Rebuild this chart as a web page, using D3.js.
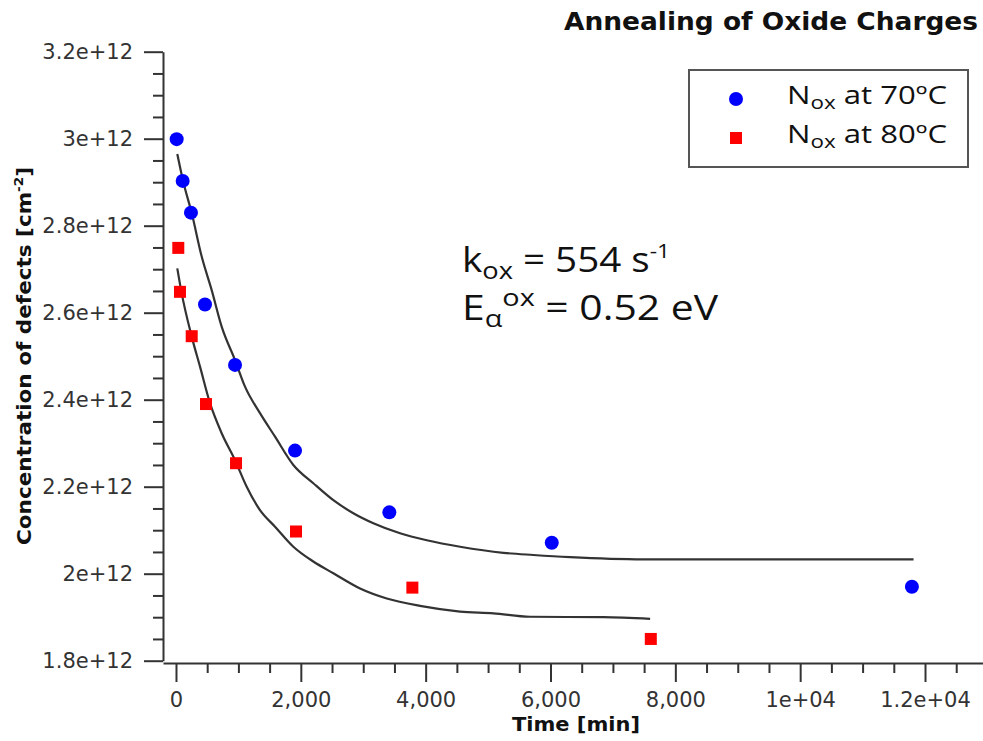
<!DOCTYPE html>
<html>
<head>
<meta charset="utf-8">
<script src="https://cdn.jsdelivr.net/npm/d3@7"></script>
<style>
  html, body { margin: 0; padding: 0; background: #fff; }
  svg { display: block; }
</style>
</head>
<body>
<svg id="chart" width="983" height="741"></svg>
<script>
// ---------- data ----------
const xTicks = [0, 2000, 4000, 6000, 8000, 10000, 12000];
const xTickLabels = ["0", "2,000", "4,000", "6,000", "8,000", "1e+04", "1.2e+04"];
const yTicks = [1.8e12, 2.0e12, 2.2e12, 2.4e12, 2.6e12, 2.8e12, 3.0e12, 3.2e12];
const yTickLabels = ["1.8e+12", "2e+12", "2.2e+12", "2.4e+12", "2.6e+12", "2.8e+12", "3e+12", "3.2e+12"];

// measured points, Nox at 70ºC
const time70 = [11, 107, 240, 465, 946, 1907, 3418, 6020, 11790];
const nox70  = [2.999e12, 2.903e12, 2.830e12, 2.619e12, 2.480e12, 2.283e12, 2.141e12, 2.071e12, 1.970e12];
// measured points, Nox at 80ºC
const time80 = [37, 64, 252, 481, 962, 1923, 3787, 7607];
const nox80  = [2.749e12, 2.648e12, 2.546e12, 2.390e12, 2.254e12, 2.097e12, 1.968e12, 1.850e12];

// fitted curves
const fitTime70 = [21, 117, 252, 412, 572, 732, 946, 1106, 1346, 1587, 1880, 2200, 2521, 2841, 3162, 3590, 4018, 4551, 5245, 5726, 6314, 7489, 11816];
const fitNox70  = [2.965e12, 2.901e12, 2.829e12, 2.729e12, 2.652e12, 2.568e12, 2.491e12, 2.430e12, 2.369e12, 2.315e12, 2.250e12, 2.208e12, 2.169e12, 2.139e12, 2.116e12, 2.093e12, 2.077e12, 2.062e12, 2.048e12, 2.043e12, 2.038e12, 2.033e12, 2.033e12];
const fitTime80 = [21, 91, 252, 385, 545, 732, 946, 1133, 1346, 1587, 1880, 2200, 2521, 2949, 3377, 3910, 4551, 5085, 5673, 6848, 7596];
const fitNox80  = [2.702e12, 2.645e12, 2.545e12, 2.476e12, 2.392e12, 2.323e12, 2.261e12, 2.200e12, 2.146e12, 2.108e12, 2.062e12, 2.028e12, 2.001e12, 1.966e12, 1.943e12, 1.926e12, 1.913e12, 1.909e12, 1.901e12, 1.900e12, 1.896e12];

const legendLabels = ["70ºC", "80ºC"];

// ---------- drawing ----------
const svg = d3.select("#chart");
const axisColor = "#333";
const tickFont = "'DejaVu Sans', sans-serif";

const x = d3.scaleLinear().domain([-208, 12929]).range([163, 983]);
const y = d3.scaleLinear().domain([1.8e12, 3.2e12]).range([660.7, 51.7]);

const xMinor = d3.range(0, 13000, 500).filter(v => v % 2000 !== 0 && x(v) <= 983);
const yMinor = d3.range(0, 29).map(i => 1.8e12 + i * 0.05e12).filter((v, i) => i % 4 !== 0);

// X axis
const gx = svg.append("g").attr("transform", "translate(0,663)");
gx.call(d3.axisBottom(x).tickValues(xMinor).tickSize(10).tickSizeOuter(0).tickFormat(""));
gx.call(g => g.select(".domain").remove());
const gx2 = svg.append("g").attr("transform", "translate(0,663)");
gx2.call(d3.axisBottom(x).tickValues(xTicks).tickSize(19).tickPadding(10).tickSizeOuter(0)
  .tickFormat((d, i) => xTickLabels[i]));
gx2.selectAll("text").attr("font-family", tickFont).attr("font-size", 21).attr("fill", "#333");

// Y axis
const gy = svg.append("g").attr("transform", "translate(163,0)");
gy.call(d3.axisLeft(y).tickValues(yMinor).tickSize(10).tickSizeOuter(0).tickFormat(""));
gy.call(g => g.select(".domain").remove());
const gy2 = svg.append("g").attr("transform", "translate(163,0)");
gy2.call(d3.axisLeft(y).tickValues(yTicks).tickSize(19).tickPadding(11).tickSizeOuter(0)
  .tickFormat((d, i) => yTickLabels[i]));
gy2.selectAll("text").attr("font-family", tickFont).attr("font-size", 21).attr("fill", "#333");

svg.selectAll("g").selectAll(".domain, line").attr("stroke", axisColor).attr("stroke-width", 2);

// Axis titles
svg.append("text")
  .attr("x", 576).attr("y", 731).attr("text-anchor", "middle")
  .attr("font-family", tickFont).attr("font-weight", "bold").attr("font-size", 19)
  .attr("textLength", 128).attr("lengthAdjust", "spacingAndGlyphs")
  .attr("fill", "#111").text("Time [min]");

const yt = svg.append("text")
  .attr("transform", "translate(31,356) rotate(-90)")
  .attr("text-anchor", "middle")
  .attr("font-family", tickFont).attr("font-weight", "bold").attr("font-size", 19)
  .attr("textLength", 378).attr("lengthAdjust", "spacingAndGlyphs")
  .attr("fill", "#111");
yt.append("tspan").text("Concentration of defects [cm");
yt.append("tspan").attr("font-size", 12).attr("dy", -8).text("-2");
yt.append("tspan").attr("dy", 8).text("]");

// Title
svg.append("text")
  .attr("x", 978).attr("y", 30).attr("text-anchor", "end")
  .attr("font-family", tickFont).attr("font-weight", "bold").attr("font-size", 24)
  .attr("textLength", 414).attr("lengthAdjust", "spacingAndGlyphs")
  .attr("fill", "#111").text("Annealing of Oxide Charges");

// Fit lines
const line = d3.line().x(d => x(d[0])).y(d => y(d[1])).curve(d3.curveMonotoneX);
svg.append("path").datum(fitTime70.map((t, i) => [t, fitNox70[i]]))
  .attr("d", line).attr("fill", "none").attr("stroke", "#333").attr("stroke-width", 2.2);
svg.append("path").datum(fitTime80.map((t, i) => [t, fitNox80[i]]))
  .attr("d", line).attr("fill", "none").attr("stroke", "#333").attr("stroke-width", 2.2);

// Points
svg.append("g").selectAll("circle").data(time70.map((t, i) => [t, nox70[i]]))
  .join("circle").attr("cx", d => x(d[0])).attr("cy", d => y(d[1])).attr("r", 7)
  .attr("fill", "#0000ff");
const sq = 12;
svg.append("g").selectAll("rect").data(time80.map((t, i) => [t, nox80[i]]))
  .join("rect").attr("x", d => x(d[0]) - sq / 2).attr("y", d => y(d[1]) - sq / 2)
  .attr("width", sq).attr("height", sq).attr("fill", "#ff0000");

// Legend
const textFont = "'Open Sans', 'Noto Sans', sans-serif";
svg.append("rect").attr("x", 689).attr("y", 70).attr("width", 279).attr("height", 97)
  .attr("fill", "#fff").attr("stroke", "#555").attr("stroke-width", 2);
svg.append("circle").attr("cx", 736).attr("cy", 99).attr("r", 7).attr("fill", "#0000ff");
svg.append("rect").attr("x", 736 - 6).attr("y", 138 - 6).attr("width", 12).attr("height", 12).attr("fill", "#ff0000");
[104, 143].forEach((by, i) => {
  const t = svg.append("text").attr("x", 787).attr("y", by)
    .attr("font-family", textFont).attr("font-size", 25).attr("fill", "#111")
    .attr("textLength", 160).attr("lengthAdjust", "spacingAndGlyphs");
  t.append("tspan").text("N");
  t.append("tspan").attr("font-size", 18).attr("dy", 5).text("ox");
  t.append("tspan").attr("dy", -5).text(" at " + legendLabels[i]);
});

// Annotation
const a1 = svg.append("text").attr("x", 462).attr("y", 272)
  .attr("font-family", textFont).attr("font-size", 34).attr("fill", "#111")
  .attr("textLength", 208).attr("lengthAdjust", "spacingAndGlyphs");
a1.append("tspan").text("k");
a1.append("tspan").attr("font-size", 24).attr("dy", 7).text("ox");
a1.append("tspan").attr("dy", -7).text(" = 554 s");
a1.append("tspan").attr("font-size", 20).attr("dy", -14).text("-1");

const a2 = svg.append("text").attr("x", 462).attr("y", 320)
  .attr("font-family", textFont).attr("font-size", 34).attr("fill", "#111")
  .attr("textLength", 256).attr("lengthAdjust", "spacingAndGlyphs");
a2.append("tspan").text("E");
a2.append("tspan").attr("font-size", 24).attr("dy", 7).text("α");
a2.append("tspan").attr("font-size", 24).attr("dy", -21).text("ox");
a2.append("tspan").attr("dy", 14).text(" = 0.52 eV");
</script>
</body>
</html>
